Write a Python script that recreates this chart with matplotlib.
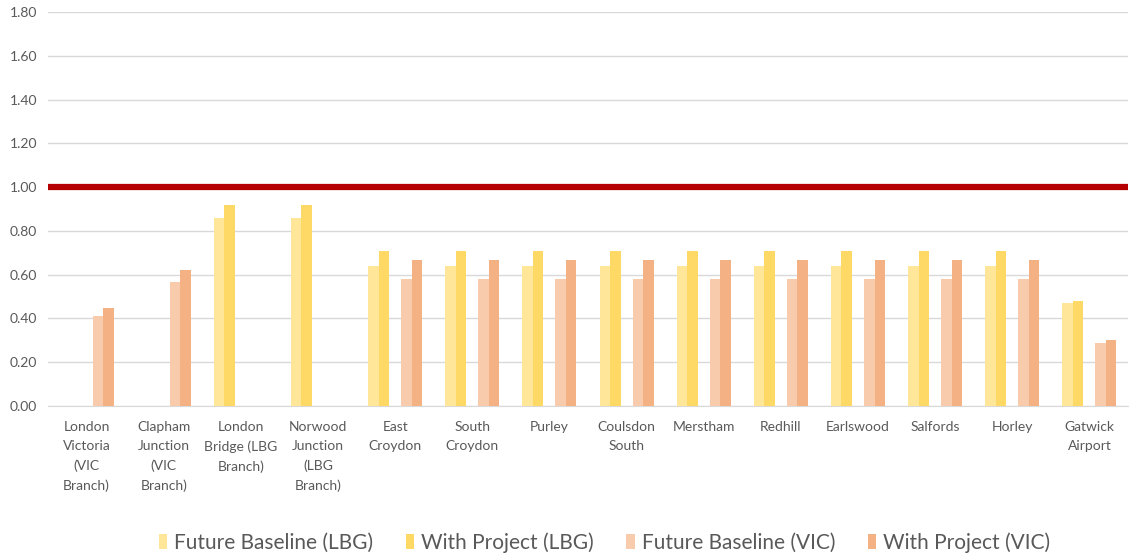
import matplotlib
matplotlib.use("Agg")
import matplotlib.pyplot as plt
import numpy as np

categories = ["London\nVictoria\n(VIC\nBranch)", "Clapham\nJunction\n(VIC\nBranch)",
              "London\nBridge (LBG\nBranch)", "Norwood\nJunction\n(LBG\nBranch)",
              "East\nCroydon", "South\nCroydon", "Purley", "Coulsdon\nSouth", "Merstham",
              "Redhill", "Earlswood", "Salfords", "Horley", "Gatwick\nAirport"]
series_names = ["Future Baseline (LBG)", "With Project (LBG)",
                "Future Baseline (VIC)", "With Project (VIC)"]
fb_lbg = [np.nan, np.nan, 0.86, 0.86, 0.64, 0.64, 0.64, 0.64, 0.64, 0.64, 0.64, 0.64, 0.64, 0.47]
wp_lbg = [np.nan, np.nan, 0.92, 0.92, 0.71, 0.71, 0.71, 0.71, 0.71, 0.71, 0.71, 0.71, 0.71, 0.48]
fb_vic = [0.41, 0.565, np.nan, np.nan, 0.58, 0.58, 0.58, 0.58, 0.58, 0.58, 0.58, 0.58, 0.58, 0.29]
wp_vic = [0.45, 0.62, np.nan, np.nan, 0.665, 0.665, 0.665, 0.665, 0.665, 0.665, 0.665, 0.665, 0.665, 0.30]
threshold = 1.0
yticks = [0.0, 0.2, 0.4, 0.6, 0.8, 1.0, 1.2, 1.4, 1.6, 1.8]

colors = ["#FFE699", "#FFD966", "#F8CBAD", "#F4B183"]
offsets = [-0.282, -0.146, 0.146, 0.282]
width = 0.136

plt.rcParams['font.family'] = ['Lato', 'DejaVu Sans']
fig = plt.figure(figsize=(11.30, 5.57), dpi=100)
ax = fig.add_axes([48/1130, 1-406/557, 1080/1130, 394/557])

x = np.arange(len(categories))
for vals, c, off, name in zip([fb_lbg, wp_lbg, fb_vic, wp_vic], colors, offsets, series_names):
    ax.bar(x + off, vals, width=width, color=c, label=name, zorder=3)

ax.axhline(threshold, color="#B40000", lw=4.5, zorder=4)

ax.set_xlim(-0.5, len(categories) - 0.5)
ax.set_ylim(0, 1.8)
ax.set_yticks(yticks)
ax.set_yticklabels([f"{v:.2f}" for v in yticks], color="#595959", fontsize=10)
ax.yaxis.grid(True, color="#D9D9D9", lw=1, zorder=0)
ax.set_axisbelow(True)
for s in ["top", "right", "left"]:
    ax.spines[s].set_visible(False)
ax.spines["bottom"].set_color("#D9D9D9")
ax.tick_params(axis="both", length=0)
ax.tick_params(axis="y", pad=8)
ax.set_xticks(x)
ax.set_xticklabels(categories, color="#595959", fontsize=10, linespacing=1.68, va="top")
ax.tick_params(axis="x", pad=11)

handles, labels = ax.get_legend_handles_labels()
leg = fig.legend(handles, labels, loc="center", bbox_to_anchor=(0.535, 0.026), ncol=4,
                 frameon=False, fontsize=15, handlelength=0.4, handleheight=0.7,
                 handletextpad=0.35, columnspacing=1.55, labelcolor="#595959")

fig.savefig("out.png", dpi=100)
